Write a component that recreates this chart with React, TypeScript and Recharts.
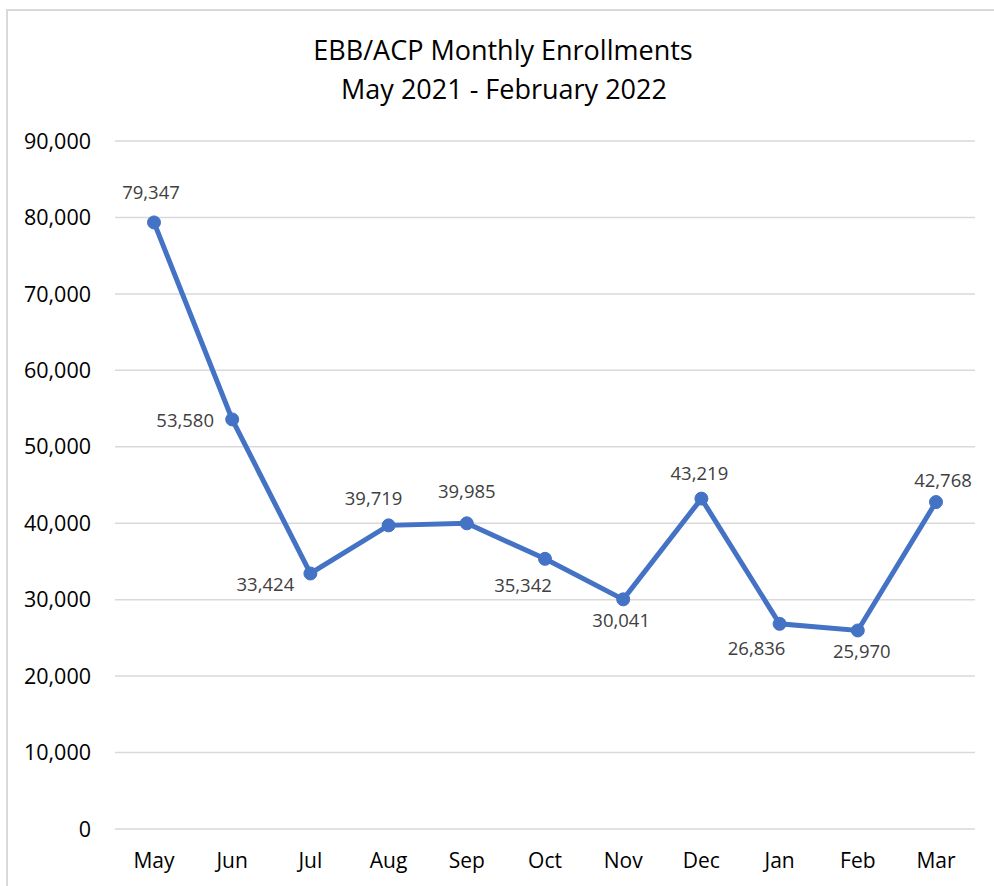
import React from 'react';
import { LineChart, Line, XAxis, YAxis, CartesianGrid, LabelList } from 'recharts';

const months = ['May', 'Jun', 'Jul', 'Aug', 'Sep', 'Oct', 'Nov', 'Dec', 'Jan', 'Feb', 'Mar'];
const enrollments = [79347, 53580, 33424, 39719, 39985, 35342, 30041, 43219, 26836, 25970, 42768];
const yTicks = [0, 10000, 20000, 30000, 40000, 50000, 60000, 70000, 80000, 90000];
const titleLines = ['EBB/ACP Monthly Enrollments', 'May 2021 - February 2022'];

// label placement (center offset from the point), style only
const labelDx = [-3, -47, -45, -15, 0, -22, -2, -2, -23, 4, 7];
const labelDy = [-31, 0, 10, -28, -33, 26, 20, -26, 24, 20, -23];

const data = months.map((m, i) => ({ month: m, value: enrollments[i] }));

const FONT = '"Open Sans", sans-serif';
const BLUE = '#4472C4';

const fmt = (v: number) => v.toLocaleString('en-US');

const renderLabel = (props: any) => {
  const { x, y, value, index } = props;
  return (
    <text
      x={x + labelDx[index]}
      y={y + labelDy[index]}
      textAnchor="middle"
      dominantBaseline="central"
      fontFamily={FONT}
      fontSize={18.5}
      fill="#404040"
    >
      {fmt(value)}
    </text>
  );
};

export default function App() {
  return (
    <div style={{ position: 'fixed', left: 0, top: 0, width: 994, height: 886, overflow: 'hidden', background: '#fff' }}>
      <div
        style={{
          position: 'absolute',
          left: 6,
          top: 9,
          width: 1010,
          height: 900,
          borderLeft: '2px solid #d9d9d9',
          borderTop: '2px solid #d9d9d9',
        }}
      />
      <svg style={{ position: 'absolute', left: 0, top: 0 }} width={994} height={130}>
        <text x={503} y={60} textAnchor="middle" fontFamily={FONT} fontSize={27} fill="#000">
          {titleLines[0]}
        </text>
        <text x={504} y={99} textAnchor="middle" fontFamily={FONT} fontSize={27} fill="#000">
          {titleLines[1]}
        </text>
      </svg>
      <div style={{ position: 'absolute', left: 8, top: 11 }}>
        <LineChart width={990} height={875} data={data} margin={{ top: 130, right: 23, bottom: 17, left: 17 }}>
          <CartesianGrid horizontal vertical={false} stroke="#d9d9d9" strokeWidth={1.5} />
          <XAxis
            dataKey="month"
            axisLine={false}
            tickLine={false}
            tickSize={0}
            tickMargin={24}
            height={40}
            padding={{ left: 39, right: 39 }}
            interval={0}
            tick={{ fontFamily: FONT, fontSize: 21, fill: '#000' }}
          />
          <YAxis
            domain={[0, 90000]}
            ticks={yTicks}
            interval={0}
            axisLine={false}
            tickLine={false}
            tickSize={0}
            tickMargin={24}
            width={90}
            tickFormatter={fmt}
            tick={{ fontFamily: FONT, fontSize: 21.5, fill: '#000' }}
          />
          <Line
            type="linear"
            dataKey="value"
            stroke={BLUE}
            strokeWidth={5}
            dot={{ r: 6.5, fill: BLUE, stroke: BLUE, strokeWidth: 1 }}
            isAnimationActive={false}
          >
            <LabelList dataKey="value" content={renderLabel} />
          </Line>
        </LineChart>
      </div>
    </div>
  );
}
